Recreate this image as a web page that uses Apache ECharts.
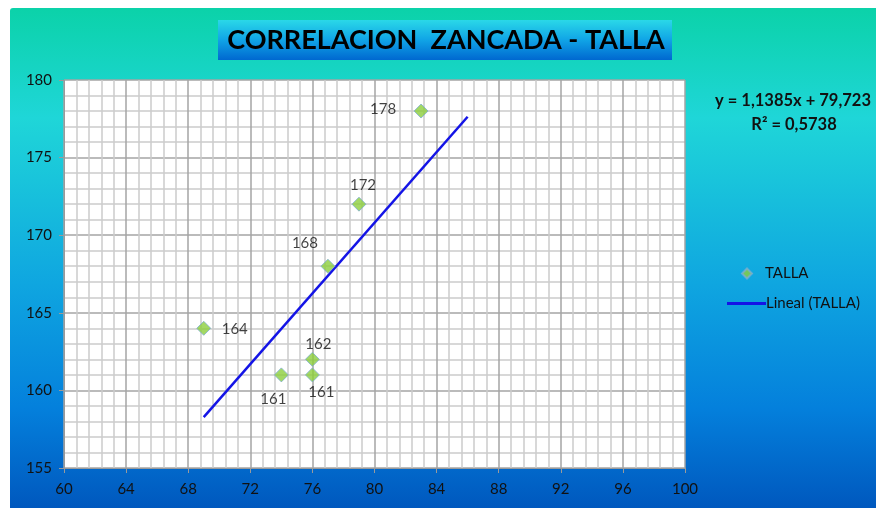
<!DOCTYPE html>
<html>
<head>
<meta charset="utf-8">
<script src="https://cdn.jsdelivr.net/npm/echarts@6/dist/echarts.min.js"></script>
<style>html,body{margin:0;padding:0;background:#fff}#c{width:876px;height:508px}</style>
</head>
<body>
<div id="c"></div>
<script>
// Data
var zancada = [69, 74, 76, 76, 77, 79, 83];
var talla = [164, 161, 161, 162, 168, 172, 178];
var xTicks = [60, 64, 68, 72, 76, 80, 84, 88, 92, 96, 100];
var yTicks = [155, 160, 165, 170, 175, 180];
var trendRange = [69, 86];
var titleText = 'CORRELACION  ZANCADA - TALLA';
var seriesName = 'TALLA';
var trendName = 'Lineal (TALLA)';

// label offsets (styling only)
var labelOffsets = [[31, 1], [-8, 24], [9, 17], [6, -15], [-23, -23], [4, -19], [-38, -2]];

// least squares fit
var n = zancada.length, mx = 0, my = 0;
for (var i = 0; i < n; i++) { mx += zancada[i]; my += talla[i]; }
mx /= n; my /= n;
var sxy = 0, sxx = 0, syy = 0;
for (i = 0; i < n; i++) {
  sxy += (zancada[i] - mx) * (talla[i] - my);
  sxx += (zancada[i] - mx) * (zancada[i] - mx);
  syy += (talla[i] - my) * (talla[i] - my);
}
var slope = sxy / sxx, intercept = my - slope * mx, r2 = sxy * sxy / (sxx * syy);
var trendData = trendRange.map(function (x) { return [x, slope * x + intercept]; });
function fmt(v, d) { return v.toFixed(d).replace('.', ','); }
var eq1 = 'y = ' + fmt(slope, 4) + 'x + ' + fmt(intercept, 3);
var eq2 = 'R² = ' + fmt(r2, 4);

var font = 'Lato, "Open Sans", sans-serif';
var scatterData = zancada.map(function (x, i) {
  return {
    value: [x, talla[i]],
    label: { show: true, position: 'inside', offset: labelOffsets[i], formatter: String(talla[i]) }
  };
});

var chart = echarts.init(document.getElementById('c'), null, { renderer: 'canvas' });
chart.setOption({
  animation: false,
  graphic: [
    { type: 'rect', z: -10, shape: { x: 10, y: 8, width: 866, height: 500, r: [3, 0, 0, 0] },
      style: { fill: new echarts.graphic.LinearGradient(0, 0, 0, 1, [
        { offset: 0, color: '#0bd2a9' },
        { offset: 0.22, color: '#1fd6d8' },
        { offset: 0.55, color: '#0fa6e0' },
        { offset: 0.8, color: '#0480dc' },
        { offset: 1, color: '#0058be' }
      ]) } },
    { type: 'rect', z: -5, shape: { x: 218, y: 20, width: 454, height: 40 },
      style: { fill: new echarts.graphic.LinearGradient(0, 0, 0, 1, [
        { offset: 0, color: '#2ad8e8' },
        { offset: 0.5, color: '#10a4e6' },
        { offset: 1, color: '#0068d0' }
      ]) } },
    { type: 'text', z: 10, x: 446, y: 40, style: { text: titleText, fill: '#000', font: 'bold 27px ' + font, align: 'center', verticalAlign: 'middle' } },
    { type: 'text', z: 10, x: 793, y: 101, style: { text: eq1, fill: '#111', font: 'bold 16.5px ' + font, align: 'center', verticalAlign: 'middle' } },
    { type: 'text', z: 10, x: 794, y: 125, style: { text: eq2, fill: '#111', font: 'bold 16.5px ' + font, align: 'center', verticalAlign: 'middle' } }
  ],
  legend: [
    { data: [{ name: seriesName, icon: 'diamond' }], left: 736, top: 261, itemWidth: 10, itemHeight: 10, itemGap: 0,
      textStyle: { fontFamily: font, fontSize: 15, color: '#111', padding: [0, 0, 0, 8] } },
    { data: [{ name: trendName, icon: 'rect' }], left: 722, top: 291, itemWidth: 39, itemHeight: 3, itemGap: 0,
      textStyle: { fontFamily: font, fontSize: 15, color: '#111', padding: [0, 0, 0, -5] } }
  ],
  grid: { left: 64, right: 191, top: 80, bottom: 40, containLabel: false, show: true, backgroundColor: '#fff', borderWidth: 0 },
  xAxis: {
    type: 'value', min: xTicks[0], max: xTicks[xTicks.length - 1], interval: 4,
    axisLine: { show: true, lineStyle: { color: '#9a9a9a', width: 1 } },
    axisTick: { show: true, length: 5, lineStyle: { color: '#9a9a9a' } },
    axisLabel: { color: '#111', fontFamily: font, fontSize: 15, margin: 14 },
    splitLine: { show: true, lineStyle: { color: '#a4a4a4', width: 1.5 } },
    minorTick: { show: false, splitNumber: 5 },
    minorSplitLine: { show: true, lineStyle: { color: '#cccccc', width: 1.5 } }
  },
  yAxis: {
    type: 'value', min: yTicks[0], max: yTicks[yTicks.length - 1], interval: 5,
    axisLine: { show: true, lineStyle: { color: '#9a9a9a', width: 1 } },
    axisTick: { show: true, length: 5, lineStyle: { color: '#9a9a9a' } },
    axisLabel: { color: '#111', fontFamily: font, fontSize: 15, margin: 12 },
    splitLine: { show: true, lineStyle: { color: '#a4a4a4', width: 1.5 } },
    minorTick: { show: false, splitNumber: 5 },
    minorSplitLine: { show: true, lineStyle: { color: '#cccccc', width: 1.5 } }
  },
  series: [
    { name: trendName, type: 'line', data: trendData, showSymbol: false, symbol: 'none',
      lineStyle: { color: '#1414e6', width: 2.5 }, itemStyle: { color: '#1414e6' }, z: 2 },
    { name: seriesName, type: 'scatter', data: scatterData, symbol: 'diamond', symbolSize: 14,
      itemStyle: { color: '#8cce3c', borderColor: '#7eaed0', borderWidth: 1 },
      label: { color: '#111', fontFamily: font, fontSize: 15, align: 'center', verticalAlign: 'middle' }, z: 3 }
  ]
});
</script>
</body>
</html>
